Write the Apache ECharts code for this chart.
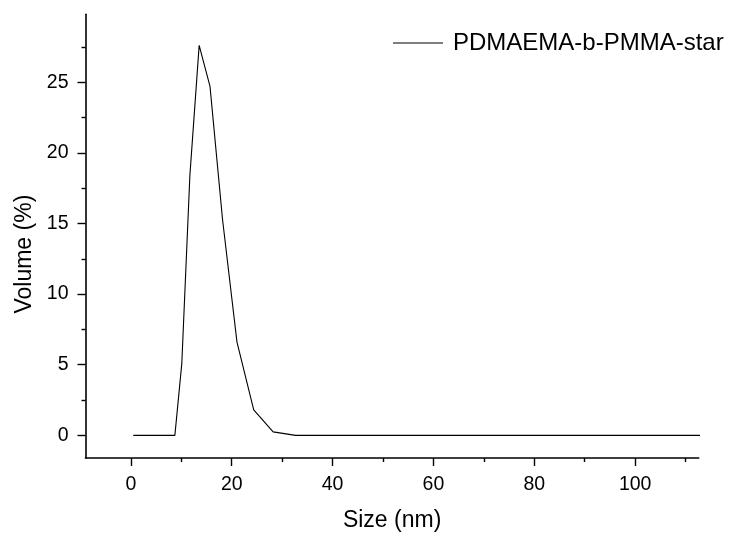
<!DOCTYPE html>
<html>
<head>
<meta charset="utf-8">
<script src="https://cdn.jsdelivr.net/npm/echarts@6/dist/echarts.min.js"></script>
<style>
  html, body { margin: 0; padding: 0; background: #fff; }
  #chart { width: 729px; height: 537px; }
</style>
</head>
<body>
<div id="chart"></div>
<script>
// Particle size distribution by volume (size bins in nm)
const sizeNm = [0.4632, 0.5365, 0.6213, 0.7195, 0.8332, 0.9649, 1.117, 1.294, 1.499, 1.736,
  2.01, 2.328, 2.696, 3.122, 3.615, 4.187, 4.849, 5.615, 6.503, 7.531, 8.721, 10.1, 11.7,
  13.54, 15.69, 18.17, 21.04, 24.36, 28.21, 32.67, 37.84, 43.82, 50.75, 58.77, 68.06,
  78.82, 91.28, 105.7, 122.4];
const volumePct = [0, 0, 0, 0, 0, 0, 0, 0, 0, 0,
  0, 0, 0, 0, 0, 0, 0, 0, 0, 0, 0, 5.1, 18.4,
  27.6, 24.7, 15.3, 6.6, 1.8, 0.25, 0, 0, 0, 0, 0, 0,
  0, 0, 0, 0];
const seriesName = 'PDMAEMA-b-PMMA-star';

const xMajorTicks = [0, 20, 40, 60, 80, 100];
const xMinorTicks = [10, 30, 50, 70, 90, 110];
const yMajorTicks = [0, 5, 10, 15, 20, 25];
const yMinorTicks = [2.5, 7.5, 12.5, 17.5, 22.5, 27.5];

const xRange = [-9.0, 112.6];
const yRange = [-1.6, 29.8];

const FONT = '"Liberation Sans", Arial, sans-serif';
const axisLineStyle = { color: '#000', width: 1.6 };

const chart = echarts.init(document.getElementById('chart'), null, { renderer: 'canvas' });

chart.setOption({
  backgroundColor: '#fff',
  animation: false,
  grid: { left: 85.5, right: 30.3, top: 14.3, bottom: 75.3, containLabel: false },
  legend: {
    show: true,
    left: 388,
    top: 26,
    itemWidth: 50,
    itemHeight: 1,
    data: [{ name: seriesName, icon: 'rect', itemStyle: { color: '#000' } }],
    textStyle: { fontFamily: FONT, fontSize: 24, color: '#000', padding: [0, 0, 0, 5] }
  },
  xAxis: [
    {
      type: 'value', min: xRange[0], max: xRange[1],
      name: 'Size (nm)', nameLocation: 'middle', nameGap: 51,
      nameTextStyle: { fontFamily: FONT, fontSize: 23, color: '#000' },
      axisLine: { show: true, onZero: false, lineStyle: axisLineStyle },
      axisTick: { show: true, length: 8, customValues: xMajorTicks, lineStyle: { color: '#000', width: 1.4 } },
      axisLabel: { customValues: xMajorTicks, margin: 17, fontFamily: FONT, fontSize: 19.5, color: '#000' },
      splitLine: { show: false }
    },
    {
      type: 'value', min: xRange[0], max: xRange[1], position: 'bottom',
      axisLine: { show: false, onZero: false },
      axisTick: { show: true, length: 4, customValues: xMinorTicks, lineStyle: { color: '#000', width: 1.4 } },
      axisLabel: { show: false },
      splitLine: { show: false }
    }
  ],
  yAxis: [
    {
      type: 'value', min: yRange[0], max: yRange[1],
      name: 'Volume (%)', nameLocation: 'middle', nameGap: 47,
      nameTextStyle: { fontFamily: FONT, fontSize: 23, color: '#000', padding: [0, 36, 0, 0] },
      axisLine: { show: true, onZero: false, lineStyle: axisLineStyle },
      axisTick: { show: true, length: 8, customValues: yMajorTicks, lineStyle: { color: '#000', width: 1.4 } },
      axisLabel: { customValues: yMajorTicks, margin: 17, fontFamily: FONT, fontSize: 19.5, color: '#000' },
      splitLine: { show: false }
    },
    {
      type: 'value', min: yRange[0], max: yRange[1], position: 'left',
      axisLine: { show: false, onZero: false },
      axisTick: { show: true, length: 4, customValues: yMinorTicks, lineStyle: { color: '#000', width: 1.4 } },
      axisLabel: { show: false },
      splitLine: { show: false }
    }
  ],
  series: [
    {
      name: seriesName,
      type: 'line',
      xAxisIndex: 0,
      yAxisIndex: 0,
      data: sizeNm.map((s, i) => [s, volumePct[i]]),
      showSymbol: false,
      symbol: 'none',
      clip: true,
      lineStyle: { color: '#000', width: 1.1 },
      itemStyle: { color: '#000' }
    }
  ]
});
</script>
</body>
</html>
